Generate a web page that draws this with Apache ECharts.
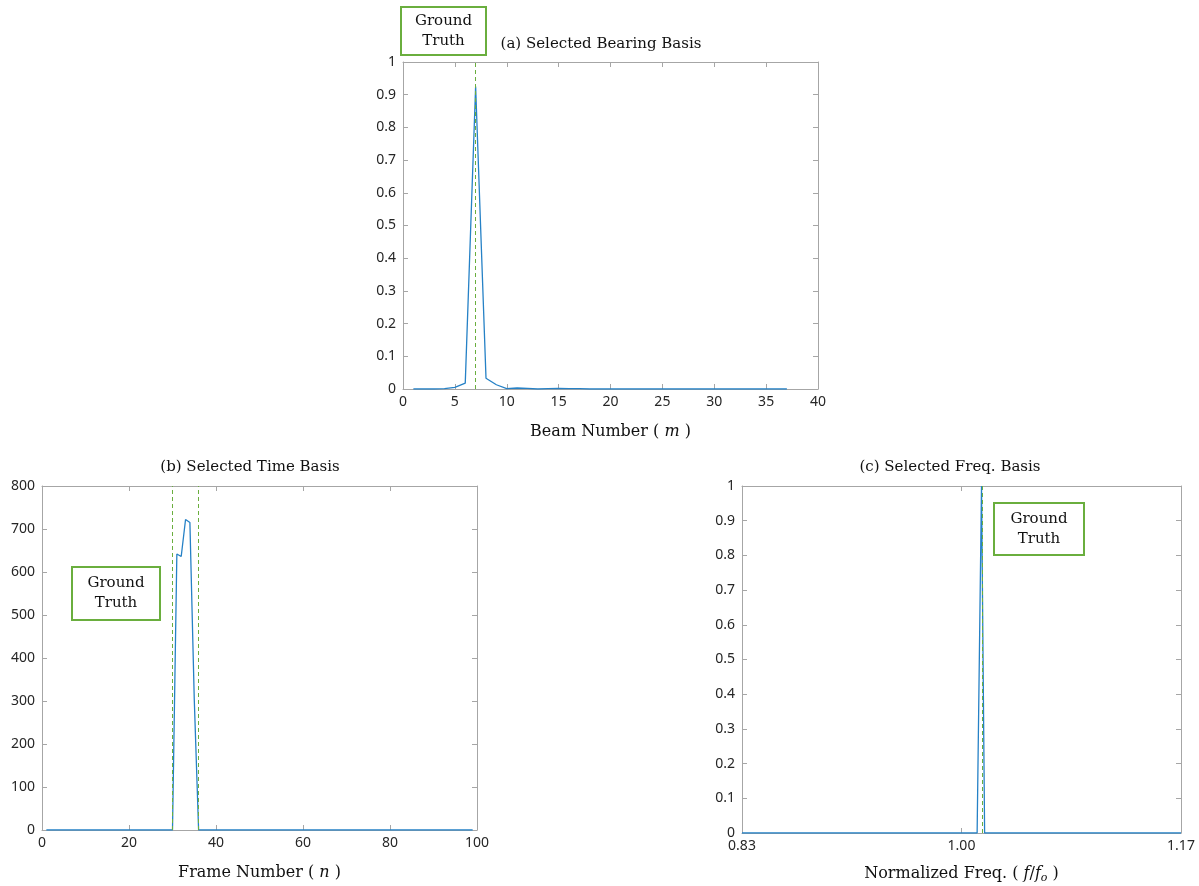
<!DOCTYPE html>
<html>
<head>
<meta charset="utf-8">
<script src="https://cdn.jsdelivr.net/npm/echarts@6/dist/echarts.min.js"></script>
<style>
  html, body { margin: 0; background: #fff; }
  #container { width: 1199px; height: 886px; }
</style>
</head>
<body>
<div id="container"></div>
<script>
// (a) bearing basis, beam m = 1..37
var beamNum = [1,2,3,4,5,6,7,8,9,10,11,12,13,14,15,16,17,18,19,20,21,22,23,24,25,26,27,28,29,30,31,32,33,34,35,36,37];
var bearingVals = [0,0,0,0.001,0.005,0.018,0.925,0.033,0.013,0.001,0.003,0.002,0,0.001,0.002,0.001,0.001,0,0,0,0,0,0,0,0,0,0,0,0,0,0,0,0,0,0,0,0];
var bearingTruth = 7;

// (b) time basis, frame n = 1..99
var frameNum = [1,2,3,4,5,6,7,8,9,10,11,12,13,14,15,16,17,18,19,20,21,22,23,24,25,26,27,28,29,30,
  31,32,33,34,35,36,37,38,39,40,41,42,43,44,45,46,47,48,49,50,51,52,53,54,55,56,57,58,59,60,
  61,62,63,64,65,66,67,68,69,70,71,72,73,74,75,76,77,78,79,80,81,82,83,84,85,86,87,88,89,90,
  91,92,93,94,95,96,97,98,99];
var timeVals = [0,0,0,0,0,0,0,0,0,0,0,0,0,0,0,0,0,0,0,0,0,0,0,0,0,0,0,0,0,0,
  642,636,722,715,305,0,0,0,0,0,0,0,0,0,0,0,0,0,0,0,0,0,0,0,0,0,0,0,0,0,
  0,0,0,0,0,0,0,0,0,0,0,0,0,0,0,0,0,0,0,0,0,0,0,0,0,0,0,0,0,0,
  0,0,0,0,0,0,0,0,0];
var timeTruth = [30, 36];

// (c) freq basis, normalized f/fo
var freqNorm = [0.83, 1.0121, 1.0155, 1.0179, 1.17];
var freqVals = [0, 0, 1, 0, 0];
var freqTruth = 1.0158;
var freqTicks = [0.83, 1.00, 1.17];

var serif = 'DejaVu Serif';
var sans = 'Noto Sans';
var axisGray = '#a6a6a6';
var textDark = '#262626';
var lineBlue = '#2581c6';
var truthGreen = '#6aae3e';

function pairs(xs, ys) {
  return xs.map(function (x, i) { return [x, ys[i]]; });
}

function mainX(grid, min, max, interval, name, gap) {
  return {
    type: 'value', gridIndex: grid, position: 'bottom', min: min, max: max, interval: interval,
    axisLine: { show: true, onZero: false, lineStyle: { color: axisGray, width: 1 } },
    axisTick: { show: true, inside: true, length: 5, lineStyle: { color: axisGray } },
    axisLabel: { color: textDark, fontFamily: sans, fontSize: 14, margin: 6 },
    splitLine: { show: false },
    name: name, nameLocation: 'middle', nameGap: gap,
    nameTextStyle: {
      color: '#111', fontFamily: serif, fontSize: 16,
      rich: {
        t: { fontFamily: serif, fontSize: 16, color: '#111' },
        i: { fontFamily: serif, fontSize: 16, fontStyle: 'italic', color: '#111' },
        s: { fontFamily: serif, fontSize: 11, fontStyle: 'italic', color: '#111', padding: [9, 0, 0, 0] }
      }
    }
  };
}

function mirrorX(grid, min, max, interval) {
  return {
    type: 'value', gridIndex: grid, position: 'top', min: min, max: max, interval: interval,
    axisLine: { show: true, onZero: false, lineStyle: { color: axisGray, width: 1 } },
    axisTick: { show: true, inside: true, length: 5, lineStyle: { color: axisGray } },
    axisLabel: { show: false },
    splitLine: { show: false }
  };
}

function mainY(grid, min, max, interval) {
  return {
    type: 'value', gridIndex: grid, position: 'left', min: min, max: max, interval: interval,
    axisLine: { show: true, onZero: false, lineStyle: { color: axisGray, width: 1 } },
    axisTick: { show: true, inside: true, length: 5, lineStyle: { color: axisGray } },
    axisLabel: { color: textDark, fontFamily: sans, fontSize: 14, margin: 7 },
    splitLine: { show: false }
  };
}

function mirrorY(grid, min, max, interval) {
  return {
    type: 'value', gridIndex: grid, position: 'right', min: min, max: max, interval: interval,
    axisLine: { show: true, onZero: false, lineStyle: { color: axisGray, width: 1 } },
    axisTick: { show: true, inside: true, length: 5, lineStyle: { color: axisGray } },
    axisLabel: { show: false },
    splitLine: { show: false }
  };
}

function truthLines(values) {
  return {
    silent: true, symbol: 'none', precision: 4, label: { show: false },
    lineStyle: { color: truthGreen, type: [4, 3], width: 1, opacity: 1 },
    emphasis: { disabled: true },
    data: values.map(function (v) { return { xAxis: v }; })
  };
}

function truthBox(x, y, w, h) {
  return {
    type: 'group', x: x, y: y,
    children: [
      { type: 'rect', shape: { x: 0, y: 0, width: w, height: h },
        style: { fill: '#fff', stroke: truthGreen, lineWidth: 2 } },
      { type: 'text', x: w / 2, y: h / 2,
        style: { text: 'Ground\nTruth', fill: '#111', font: '15px "DejaVu Serif"',
                 align: 'center', verticalAlign: 'middle', lineHeight: 20 } }
    ]
  };
}

function titleText(x, y, text) {
  return {
    type: 'text', x: x, y: y,
    style: { text: text, fill: '#111', font: '15px "DejaVu Serif"', align: 'center', verticalAlign: 'middle' }
  };
}

var freqX = mainX(2, 0.83, 1.17, null, '{t|Normalized Freq. ( }{i|f}{t|/}{i|f}{s|o}{t| )}', 31);
delete freqX.interval;
freqX.axisLabel.customValues = freqTicks;
freqX.axisTick.customValues = freqTicks;
freqX.axisLabel.formatter = function (v) { return v.toFixed(2); };
var freqXTop = mirrorX(2, 0.83, 1.17, null);
delete freqXTop.interval;
freqXTop.axisTick.customValues = freqTicks;

var option = {
  animation: false,
  backgroundColor: '#fff',
  grid: [
    { left: 403, top: 62, width: 415, height: 327 },
    { left: 42, top: 486, width: 435, height: 344 },
    { left: 742, top: 486, width: 439, height: 347 }
  ],
  xAxis: [
    mainX(0, 0, 40, 5, '{t|Beam Number ( }{i|m}{t| )}', 35),
    mirrorX(0, 0, 40, 5),
    mainX(1, 0, 100, 20, '{t|Frame Number ( }{i|n}{t| )}', 35),
    mirrorX(1, 0, 100, 20),
    freqX,
    freqXTop
  ],
  yAxis: [
    mainY(0, 0, 1, 0.1),
    mirrorY(0, 0, 1, 0.1),
    mainY(1, 0, 800, 100),
    mirrorY(1, 0, 800, 100),
    mainY(2, 0, 1, 0.1),
    mirrorY(2, 0, 1, 0.1)
  ],
  series: [
    { type: 'line', xAxisIndex: 0, yAxisIndex: 0, data: pairs(beamNum, bearingVals),
      showSymbol: false, lineStyle: { color: lineBlue, width: 1.3 }, z: 3,
      markLine: truthLines([bearingTruth]) },
    { type: 'line', xAxisIndex: 2, yAxisIndex: 2, data: pairs(frameNum, timeVals),
      showSymbol: false, lineStyle: { color: lineBlue, width: 1.3 }, z: 3,
      markLine: truthLines(timeTruth) },
    { type: 'line', xAxisIndex: 4, yAxisIndex: 4, data: pairs(freqNorm, freqVals),
      showSymbol: false, lineStyle: { color: lineBlue, width: 1.3 }, z: 3,
      markLine: truthLines([freqTruth]) }
  ],
  graphic: [
    titleText(601, 44, '(a) Selected Bearing Basis'),
    titleText(250, 467, '(b) Selected Time Basis'),
    titleText(950, 467, '(c) Selected Freq. Basis'),
    truthBox(401, 7, 85, 48),
    truthBox(72, 567, 88, 53),
    truthBox(994, 503, 90, 52)
  ]
};

var chart = echarts.init(document.getElementById('container'), null, { renderer: 'canvas' });
chart.setOption(option);
</script>
</body>
</html>
